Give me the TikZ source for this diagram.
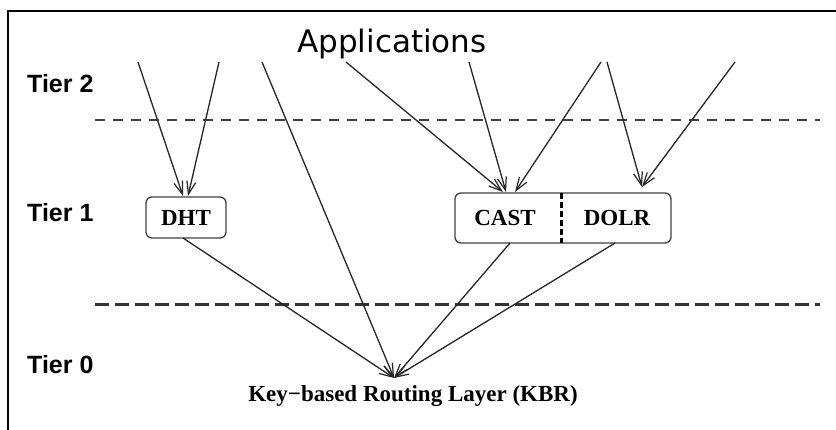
\documentclass[tikz,border=0pt]{standalone}
\usepackage{fontspec}
\setmainfont{Liberation Serif}
\newfontfamily\tierfont{Liberation Sans}
\newfontfamily\appfont{DejaVu Sans}
\usetikzlibrary{arrows.meta}
\begin{document}
\begin{tikzpicture}[x=1pt,y=-1pt,
  tierlabel/.style={anchor=base west,inner sep=0pt,font=\tierfont\bfseries\fontsize{25}{30}\selectfont},
  layerbox/.style={draw=black!75,line width=1.3pt,rounded corners=6pt,inner sep=0pt},
  boxlabel/.style={inner sep=0pt,font=\bfseries\fontsize{23}{27}\selectfont},
  link/.style={draw=black!85,line width=1.3pt,-{Straight Barb[length=13pt,width=9pt,line width=1.2pt]}},
  tierline/.style={draw=black!75,line width=1.7pt,dash pattern=on 10pt off 8pt},
  tierlinethick/.style={draw=black!80,line width=3pt,dash pattern=on 14pt off 6pt}]
\useasboundingbox (0,0) rectangle (836,430);
% frame edges
\draw[line width=2.2pt] (836,11) -- (8,11) -- (8,430);

% title and tier labels
\node[anchor=base west,inner sep=0pt,font=\appfont\fontsize{31}{36}\selectfont] (apps) at (297,53) {Applications};
\node[tierlabel] (t2) at (27,93) {Tier 2};
\node[tierlabel] (t1) at (27,222) {Tier 1};
\node[tierlabel] (t0) at (27,374) {Tier 0};

% tier separators
\coordinate (sepAa) at (95,120);  \coordinate (sepAb) at (820,120);
\coordinate (sepBa) at (95,305);  \coordinate (sepBb) at (820,305);
\draw[tierline] (sepAa) -- (sepAb);
\draw[tierlinethick] (sepBa) -- (sepBb);

% tier 1 services
\node[layerbox,minimum width=80pt,minimum height=41pt] (dht) at (186,217.5) {};
\node[boxlabel] (dhtl) at (186,218) {DHT};
\node[layerbox,minimum width=216pt,minimum height=50pt] (cd) at (563,218) {};
\node[boxlabel] (cast) at (505,218) {CAST};
\node[boxlabel] (dolr) at (617,218) {DOLR};
\coordinate (divt) at (561,193);
\coordinate (divb) at (561,243);
\draw[line width=3pt,dash pattern=on 6pt off 3pt] (divt) -- (divb);

% tier 0 routing layer
\node[anchor=base,inner sep=0pt,font=\bfseries\fontsize{23}{27}\selectfont] (kbr) at (413,402) {Key−based Routing Layer (KBR)};
\coordinate (kbrtip) at (394,378);

% application sources
\coordinate (s1) at (138,62);
\coordinate (s2) at (219,62);
\coordinate (s3) at (262,62);
\coordinate (s4) at (346,62);
\coordinate (s5) at (469,62);
\coordinate (s6) at (601,62);
\coordinate (s7) at (607,62);
\coordinate (s8) at (735,62);

% arrival points on the service boxes
\coordinate (dhtin1) at (183,196);
\coordinate (dhtin2) at (188,196);
\coordinate (castin1) at (503,192);
\coordinate (castin2) at (506,192);
\coordinate (castin3) at (515,192);
\coordinate (dolrin) at (642,187);
\coordinate (dhtout) at (183,238);
\coordinate (castout) at (510,243);
\coordinate (dolrout) at (615,243);

% tier 2 -> tier 1 / tier 0
\draw[link] (s1) -- (dhtin1);
\draw[link] (s2) -- (dhtin2);
\draw[link] (s3) -- (kbrtip);
\draw[link] (s4) -- (castin1);
\draw[link] (s5) -- (castin2);
\draw[link] (s6) -- (castin3);
\draw[link] (s7) -- (dolrin);
\draw[link] (s8) -- (dolrin);

% tier 1 -> tier 0
\draw[link] (dhtout) -- (kbrtip);
\draw[link] (castout) -- (kbrtip);
\draw[link] (dolrout) -- (kbrtip);
\end{tikzpicture}
\end{document}
